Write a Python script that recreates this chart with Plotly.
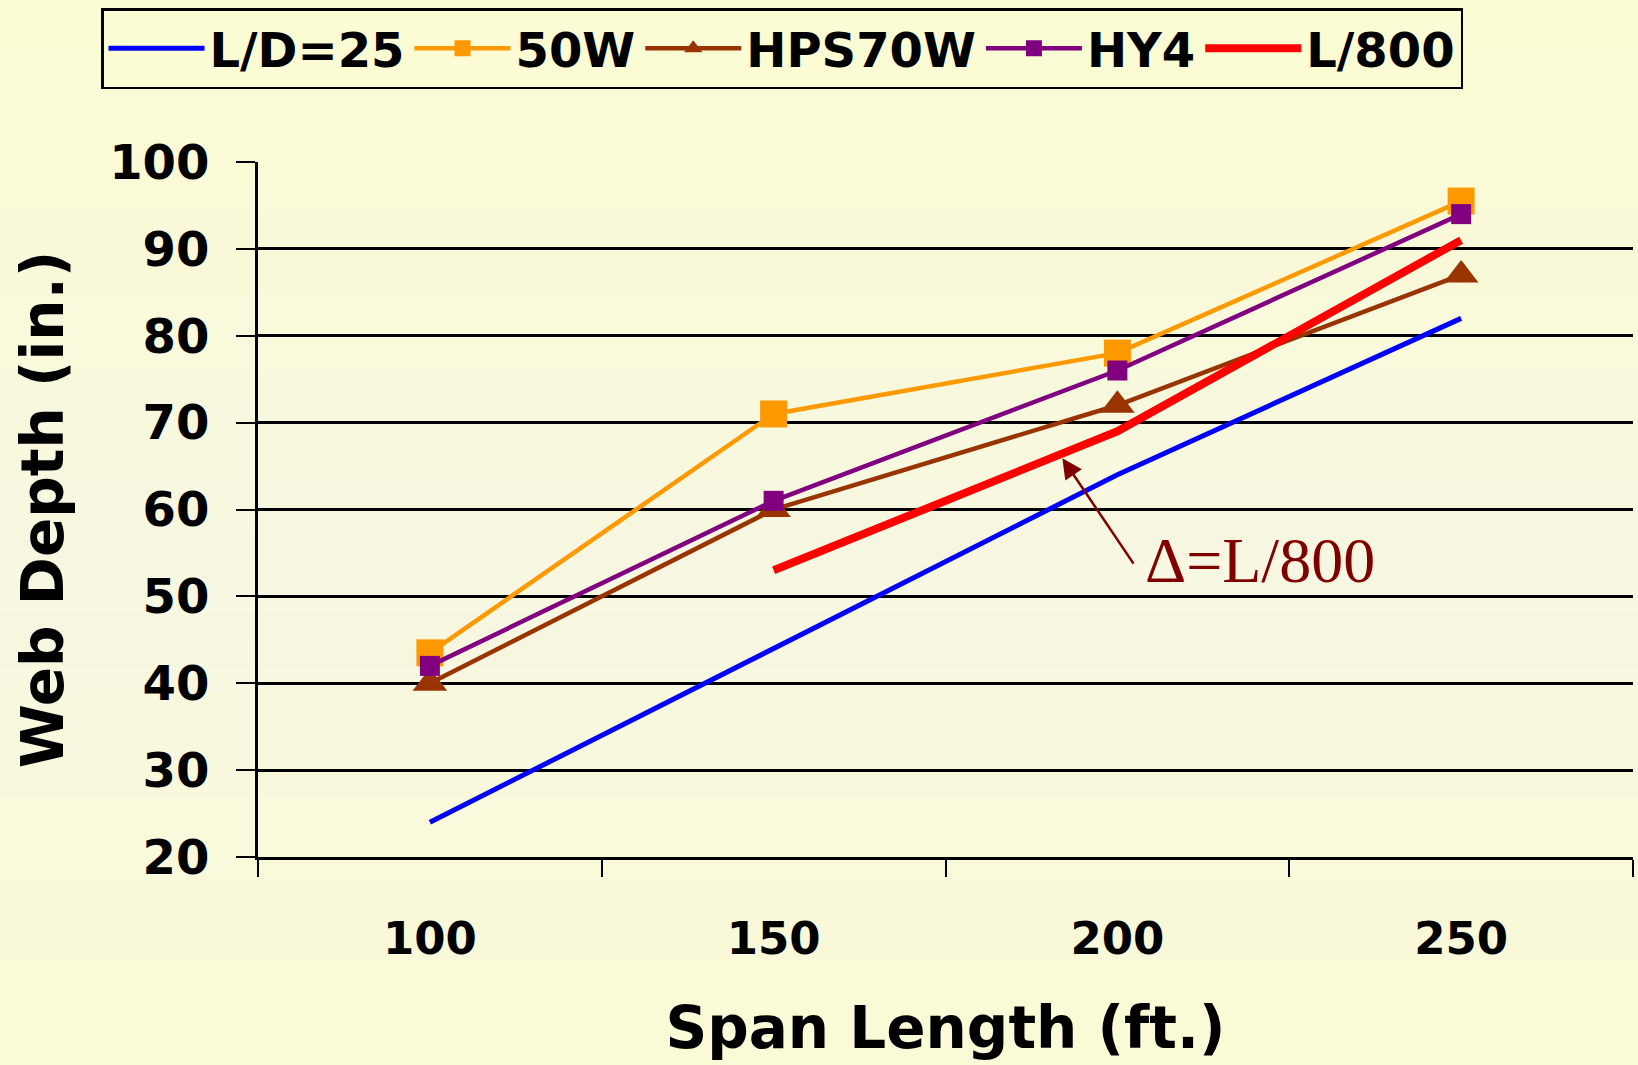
import plotly.graph_objects as go

spans = ["100", "150", "200", "250"]
ld25 = [24, 44, 64, 82]
w50 = [43.5, 71, 78, 95.5]
hps70w = [40, 60, 72, 87]
hy4 = [42, 61, 76, 94]
l800 = [None, 53, 69, 91]
y_ticks = [20, 30, 40, 50, 60, 70, 80, 90, 100]

W, H = 1638, 1065
ML, MR, MT, MB = 258, 5, 162, 208

fig = go.Figure()
fig.add_trace(go.Scatter(x=spans, y=ld25, name="L/D=25", mode="lines",
                         line=dict(color="#0000FF", width=5)))
fig.add_trace(go.Scatter(x=spans, y=w50, name="50W", mode="lines+markers",
                         line=dict(color="#FF9900", width=4.5),
                         marker=dict(symbol="square", size=27, color="#FF9900")))
fig.add_trace(go.Scatter(x=spans, y=hps70w, name="HPS70W", mode="lines+markers",
                         line=dict(color="#993300", width=4.5),
                         marker=dict(symbol="triangle-up", size=30, color="#993300")))
fig.add_trace(go.Scatter(x=spans, y=hy4, name="HY4", mode="lines+markers",
                         line=dict(color="#800080", width=4.5),
                         marker=dict(symbol="square", size=20, color="#800080")))
fig.add_trace(go.Scatter(x=spans, y=l800, name="L/800", mode="lines",
                         line=dict(color="#FF0000", width=8)))

# background gradient bands (styling only)
shapes = []
n = 40
pw = W - ML - MR
ph = H - MT - MB
def mix(t):
    top = (251, 251, 211)
    mid = (247, 247, 226)
    d = min(abs(t - 0.55) / 0.55, 1.0)
    c = [round(mid[i] + (top[i] - mid[i]) * d) for i in range(3)]
    return "rgb(%d,%d,%d)" % tuple(c)
for i in range(n):
    y0 = i * H / n
    y1 = (i + 1) * H / n + 1
    shapes.append(dict(type="rect", xref="paper", yref="paper", layer="below",
                       x0=-ML / pw, x1=1 + MR / pw,
                       y0=1 + (MT - y1) / ph, y1=1 + (MT - y0) / ph,
                       line=dict(width=0), fillcolor=mix((i + 0.5) / n)))

fig.update_layout(
    width=W, height=H,
    margin=dict(l=ML, r=MR, t=MT, b=MB, autoexpand=False),
    paper_bgcolor="#FAFAD6",
    plot_bgcolor="rgba(0,0,0,0)",
    shapes=shapes,
    font=dict(family="DejaVu Sans", color="black"),
    legend=dict(orientation="h", xref="container", yref="container",
                x=101 / W, y=1 - 8 / H, xanchor="left", yanchor="top",
                bordercolor="black", borderwidth=2.5, bgcolor="#FCFCD4",
                font=dict(size=48, family="DejaVu Sans", weight="bold"),
                itemwidth=96, tracegroupgap=0),
    showlegend=True,
)
fig.update_xaxes(
    type="category", categoryorder="array", categoryarray=spans,
    range=[-0.5, 3.5], tickson="boundaries", ticks="outside", ticklen=17,
    tickwidth=2, tickcolor="black", showgrid=False,
    showline=True, linecolor="black", linewidth=3, zeroline=False,
    tickfont=dict(size=45, family="DejaVu Sans", weight="bold"),
    ticklabelstandoff=40,
    title=dict(text="Span Length (ft.)", standoff=44,
               font=dict(size=58, family="DejaVu Sans", weight="bold")),
)
fig.update_yaxes(
    range=[20, 100], tickvals=y_ticks, ticks="outside", ticklen=19,
    tickwidth=2, tickcolor="black", showgrid=True, gridcolor="black",
    gridwidth=2.5, showline=True, linecolor="black", linewidth=3, zeroline=False,
    tickfont=dict(size=48, family="DejaVu Sans", weight="bold"),
    ticklabelstandoff=17,
    title=dict(text="Web Depth (in.)", standoff=27,
               font=dict(size=58, family="DejaVu Sans", weight="bold")),
)

fig.add_annotation(x=1.84, y=65.9, ax=2.05, ay=53.6, xref="x", yref="y",
                   axref="x", ayref="y", text="", showarrow=True,
                   arrowhead=2, arrowsize=1.6, arrowwidth=2.5,
                   arrowcolor="#800000")
fig.add_annotation(x=2.416, y=54.1, xref="x", yref="y", text="Δ=L/800",
                   showarrow=False,
                   font=dict(family="Liberation Serif", size=64, color="#800000"))

fig.write_html("out.html")
